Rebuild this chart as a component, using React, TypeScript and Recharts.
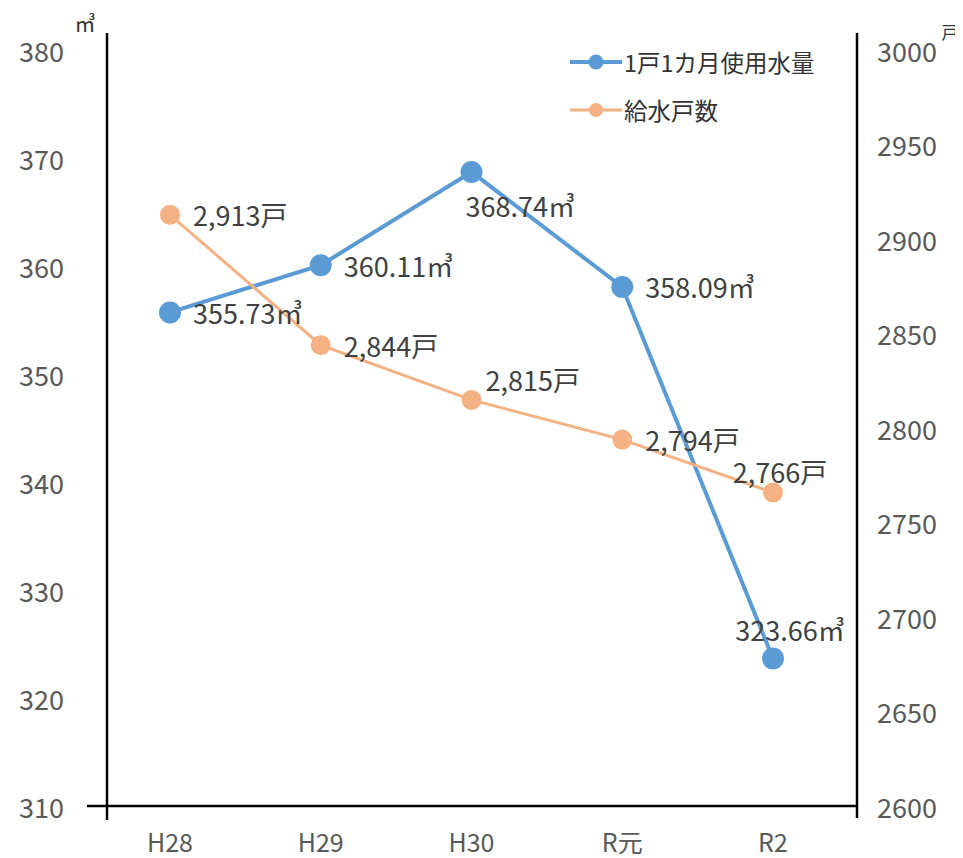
import React from 'react';
import { LineChart, Line, XAxis, YAxis, Legend } from 'recharts';

const categories = ['H28', 'H29', 'H30', 'R元', 'R2'];
const usagePerHousehold = [355.73, 360.11, 368.74, 358.09, 323.66];
const households = [2913, 2844, 2815, 2794, 2766];
const leftTicks = [310, 320, 330, 340, 350, 360, 370, 380];
const rightTicks = [2600, 2650, 2700, 2750, 2800, 2850, 2900, 2950, 3000];

const rows = categories.map((c, i) => ({
  cat: c,
  usage: usagePerHousehold[i],
  houses: households[i],
}));

const FONT = "'Noto Sans CJK JP', 'Noto Sans', sans-serif";
const BLUE = '#5B9BD5';
const ORANGE = '#F4B183';
const AXIS_W = 2.5;

const blueLabelPlacement = ['right', 'right', 'belowRight', 'right', 'above'];
const orangeLabelPlacement = ['right', 'right', 'aboveRight', 'right', 'aboveSmall'];

const placeLabel = (kind: string, x: number, y: number) => {
  switch (kind) {
    case 'belowRight':
      return { x: x - 6, y: y + 33, anchor: 'start' };
    case 'above':
      return { x: x + 17, y: y - 29, anchor: 'middle' };
    case 'aboveRight':
      return { x: x + 14, y: y - 20, anchor: 'start' };
    case 'aboveSmall':
      return { x: x + 7, y: y - 21, anchor: 'middle' };
    default:
      return { x: x + 23, y: y, anchor: 'start' };
  }
};

const makeLabel = (placements: string[], fmt: (v: number) => string) => (props: any) => {
  const { x, y, value, index } = props;
  if (x == null || y == null) return null;
  const p = placeLabel(placements[index], Number(x), Number(y));
  return (
    <text
      x={p.x}
      y={p.y}
      textAnchor={p.anchor as any}
      dominantBaseline="central"
      fontSize={27}
      fontFamily={FONT}
      fill="#404040"
    >
      {fmt(Number(value))}
    </text>
  );
};

const LeftTick = (props: any) => {
  const { x, y, payload } = props;
  return (
    <g>
      <text x={x - 43} y={y} textAnchor="end" dominantBaseline="central" fontSize={27} fontFamily={FONT} fill="#595959">
        {payload.value}
      </text>
      {payload.value === leftTicks[0] && (
        <g stroke="#000" strokeWidth={AXIS_W}>
          <line x1={x - 20} y1={y} x2={x} y2={y} />
          <line x1={x} y1={y} x2={x} y2={y + 14} />
        </g>
      )}
    </g>
  );
};

const RightTick = (props: any) => {
  const { x, y, payload } = props;
  return (
    <g>
      <text x={x + 20} y={y} textAnchor="start" dominantBaseline="central" fontSize={27} fontFamily={FONT} fill="#595959">
        {payload.value}
      </text>
      {payload.value === rightTicks[0] && (
        <line x1={x} y1={y} x2={x} y2={y + 12} stroke="#000" strokeWidth={AXIS_W} />
      )}
    </g>
  );
};

const BottomTick = (props: any) => {
  const { x, y, payload } = props;
  return (
    <text x={x} y={y + 35} textAnchor="middle" dominantBaseline="central" fontSize={25} fontFamily={FONT} fill="#595959">
      {payload.value}
    </text>
  );
};

const LegendContent = (props: any) => {
  const items = props.payload || [];
  return (
    <div style={{ fontFamily: FONT }}>
      {items.map((it: any, i: number) => (
        <div key={i} style={{ display: 'flex', alignItems: 'center', height: 48 }}>
          <svg width={52} height={20} style={{ display: 'block' }}>
            <line x1={0} y1={10} x2={52} y2={10} stroke={it.color} strokeWidth={i === 0 ? 4 : 3} />
            <circle cx={26} cy={10} r={i === 0 ? 7.5 : 7} fill={it.color} />
          </svg>
          <span style={{ fontSize: 23.5, color: '#333', marginLeft: 2, whiteSpace: 'nowrap' }}>{it.value}</span>
        </div>
      ))}
    </div>
  );
};

const UnitLabel = (text: string, dx: number, dy: number, size: number) => (props: any) => {
  const vb = props.viewBox || {};
  return (
    <text
      x={vb.x + dx}
      y={vb.y + dy}
      textAnchor="middle"
      dominantBaseline="central"
      fontSize={size}
      fontFamily={FONT}
      fill="#333"
    >
      {text}
    </text>
  );
};

export default function App() {
  return (
    <div style={{ width: 955, height: 850, position: 'relative' }}>
      <LineChart width={955} height={850} data={rows} margin={{ top: 25, right: 0, bottom: 0, left: 0 }}>
        <XAxis
          dataKey="cat"
          scale="point"
          padding={{ left: 63, right: 84 }}
          height={52}
          axisLine={{ stroke: '#000', strokeWidth: AXIS_W }}
          tickLine={false}
          tickSize={0}
          tickMargin={0}
          interval={0}
          tick={<BottomTick />}
        />
        <YAxis
          yAxisId="L"
          type="number"
          domain={[310, 381.62]}
          ticks={leftTicks}
          width={99}
          axisLine={{ stroke: '#000', strokeWidth: AXIS_W }}
          tickLine={false}
          tickSize={0}
          tickMargin={0}
          tick={<LeftTick />}
          label={{ content: UnitLabel('㎥', 77, -11, 21) }}
        />
        <YAxis
          yAxisId="R"
          orientation="right"
          type="number"
          domain={[2600, 3009.27]}
          ticks={rightTicks}
          width={106}
          axisLine={{ stroke: '#000', strokeWidth: AXIS_W }}
          tickLine={false}
          tickSize={0}
          tickMargin={0}
          tick={<RightTick />}
          label={{ content: UnitLabel('戸', 93, -2, 17) }}
        />
        <Legend
          layout="vertical"
          align="center"
          verticalAlign="middle"
          wrapperStyle={{ left: 562, top: 30, width: 300 }}
          content={<LegendContent />}
        />
        <Line
          yAxisId="L"
          dataKey="usage"
          name="1戸1カ月使用水量"
          stroke={BLUE}
          strokeWidth={4}
          dot={{ r: 11, fill: BLUE, stroke: BLUE, strokeWidth: 0 }}
          activeDot={false}
          isAnimationActive={false}
          label={makeLabel(blueLabelPlacement, (v) => `${v.toFixed(2)}㎥`)}
        />
        <Line
          yAxisId="R"
          dataKey="houses"
          name="給水戸数"
          stroke={ORANGE}
          strokeWidth={3}
          dot={{ r: 10, fill: ORANGE, stroke: ORANGE, strokeWidth: 0 }}
          activeDot={false}
          isAnimationActive={false}
          label={makeLabel(orangeLabelPlacement, (v) => `${v.toLocaleString('en-US')}戸`)}
        />
      </LineChart>
    </div>
  );
}
